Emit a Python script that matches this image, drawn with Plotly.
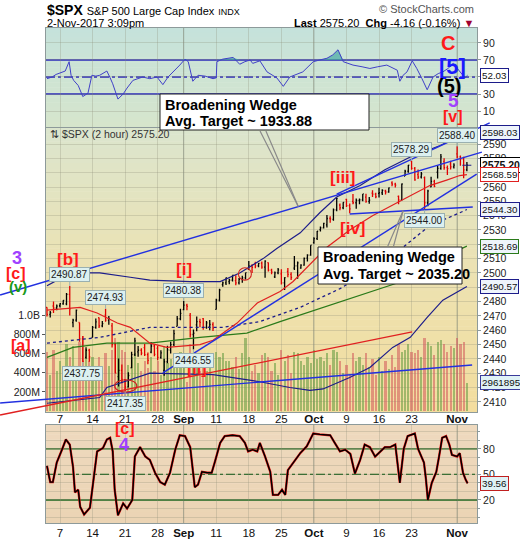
import numpy as np
import plotly.graph_objects as go

# ------------------------------------------------------------------ data
# x positions are trading-day indices (Aug 3 = 0 ... Nov 2 = 64), 2 bars per day
tick_idx = [2, 7, 12, 17, 21, 26, 31, 36, 41, 46, 51, 56, 63]
tick_text = ["7", "14", "21", "28", "<b>Sep</b>", "11", "18", "25",
             "<b>Oct</b>", "9", "16", "23", "<b>Nov</b>"]

bar_open = [2476.0, 2471.0, 2476.9, 2475.5, 2477.1, 2478.5, 2478.4, 2485.0, 2465.4, 2467.0,
            2465.4, 2454.0, 2441.0, 2446.0, 2455.0, 2462.0, 2468.7, 2463.0, 2470.5, 2467.0,
            2463.0, 2450.0, 2427.6, 2432.0, 2425.5, 2420.5, 2433.8, 2443.0, 2444.9, 2446.0,
            2447.9, 2443.0, 2444.7, 2449.0, 2447.4, 2441.0, 2431.9, 2438.0, 2446.1, 2450.0,
            2462.7, 2468.0, 2474.4, 2477.5, 2470.4, 2457.0, 2463.8, 2466.0, 2468.1, 2462.0,
            2462.3, 2464.0, 2474.5, 2481.0, 2491.9, 2493.0, 2493.9, 2495.0, 2494.6, 2493.0,
            2495.7, 2496.5, 2502.5, 2505.0, 2506.3, 2505.0, 2506.8, 2504.0, 2507.2, 2502.0,
            2497.3, 2500.0, 2499.4, 2493.0, 2501.0, 2499.0, 2503.3, 2505.0, 2503.4, 2505.5,
            2510.4, 2512.5, 2521.2, 2524.0, 2530.3, 2531.5, 2533.5, 2538.0, 2537.4, 2544.0,
            2547.4, 2545.5, 2551.4, 2547.0, 2550.0, 2549.0, 2550.6, 2551.0, 2552.9, 2550.0,
            2555.7, 2555.0, 2555.6, 2556.0, 2557.2, 2556.5, 2562.9, 2562.0, 2553.4, 2551.0,
            2567.6, 2571.0, 2578.1, 2573.0, 2568.7, 2567.0, 2566.5, 2549.0, 2560.1, 2564.0,
            2570.3, 2573.0, 2577.8, 2573.5, 2576.0, 2574.0, 2583.2, 2581.0, 2579.5, 2572.0]
bar_high = [2476.0, 2473.5, 2480.0, 2478.0, 2478.8, 2481.0, 2486.0, 2490.87, 2468.0, 2474.4,
            2465.4, 2456.0, 2448.1, 2447.0, 2463.0, 2468.2, 2468.9, 2466.5, 2474.93, 2470.0,
            2465.0, 2451.0, 2440.3, 2436.0, 2426.0, 2430.6, 2445.0, 2454.8, 2448.9, 2447.5,
            2450.4, 2444.5, 2451.7, 2450.0, 2449.1, 2446.0, 2440.0, 2449.2, 2452.0, 2460.3,
            2470.0, 2475.0, 2480.38, 2478.5, 2472.0, 2460.5, 2469.6, 2468.0, 2468.6, 2466.5,
            2467.1, 2465.5, 2482.0, 2489.0, 2494.0, 2496.8, 2496.0, 2498.4, 2498.4, 2496.5,
            2498.0, 2500.2, 2508.3, 2506.0, 2507.8, 2507.0, 2508.0, 2508.9, 2507.2, 2503.0,
            2501.0, 2503.5, 2502.5, 2497.0, 2503.5, 2500.5, 2511.8, 2508.0, 2506.0, 2510.8,
            2513.0, 2519.4, 2525.0, 2529.2, 2532.5, 2535.1, 2540.5, 2539.5, 2545.0, 2552.5,
            2548.5, 2549.4, 2551.8, 2548.5, 2555.2, 2552.0, 2552.0, 2555.2, 2555.3, 2553.0,
            2557.7, 2556.0, 2559.5, 2558.5, 2558.0, 2559.7, 2564.1, 2563.0, 2554.0, 2562.4,
            2572.0, 2575.4, 2578.29, 2574.0, 2572.2, 2570.5, 2567.4, 2558.0, 2567.1, 2565.0,
            2575.0, 2583.0, 2580.0, 2575.0, 2578.3, 2576.5, 2588.40, 2582.0, 2581.1, 2577.5]
bar_low = [2469.5, 2468.9, 2472.1, 2474.0, 2475.9, 2477.8, 2477.5, 2470.3, 2462.1, 2466.0,
           2452.0, 2437.75, 2440.0, 2437.9, 2455.0, 2461.0, 2461.6, 2462.0, 2466.0, 2463.9,
           2448.0, 2430.0, 2420.7, 2423.0, 2417.35, 2420.0, 2433.7, 2442.0, 2441.4, 2442.5,
           2442.0, 2436.2, 2444.0, 2441.9, 2439.0, 2440.0, 2428.2, 2437.0, 2443.8, 2449.0,
           2462.7, 2467.0, 2474.0, 2473.9, 2455.0, 2446.55, 2459.2, 2462.0, 2460.3, 2461.0,
           2460.0, 2459.4, 2474.5, 2480.0, 2490.4, 2491.5, 2492.1, 2494.0, 2491.4, 2492.0,
           2493.2, 2495.5, 2502.0, 2499.9, 2503.2, 2504.0, 2503.0, 2496.7, 2501.0, 2499.0,
           2496.5, 2499.0, 2492.0, 2488.0, 2497.0, 2495.1, 2502.0, 2495.9, 2502.9, 2505.0,
           2508.0, 2512.0, 2520.4, 2523.0, 2528.9, 2531.0, 2531.8, 2535.0, 2536.5, 2543.0,
           2543.8, 2544.5, 2546.0, 2541.6, 2548.0, 2544.9, 2548.0, 2550.0, 2549.0, 2548.3,
           2553.0, 2552.1, 2552.6, 2554.5, 2554.7, 2556.0, 2560.5, 2559.7, 2547.9, 2550.5,
           2567.6, 2570.0, 2572.0, 2564.3, 2565.6, 2566.0, 2544.00, 2546.5, 2559.8, 2559.9,
           2565.9, 2572.0, 2572.0, 2568.3, 2572.2, 2573.0, 2580.0, 2574.9, 2566.2, 2571.0]
bar_close = [2471.0, 2472.2, 2475.5, 2476.8, 2478.5, 2480.9, 2485.0, 2474.9, 2467.0, 2474.0,
             2454.0, 2438.2, 2446.0, 2441.3, 2462.0, 2465.8, 2463.0, 2464.6, 2467.0, 2468.1,
             2450.0, 2430.0, 2432.0, 2425.6, 2420.5, 2428.4, 2443.0, 2452.5, 2446.0, 2444.0,
             2443.0, 2439.0, 2449.0, 2443.1, 2441.0, 2444.2, 2438.0, 2446.3, 2450.0, 2457.6,
             2468.0, 2471.7, 2477.5, 2476.6, 2457.0, 2457.9, 2466.0, 2465.5, 2462.0, 2465.1,
             2464.0, 2461.4, 2481.0, 2488.1, 2493.0, 2496.5, 2495.0, 2498.4, 2493.0, 2495.6,
             2496.5, 2500.2, 2505.0, 2503.9, 2505.0, 2506.7, 2504.0, 2508.2, 2502.0, 2500.6,
             2500.0, 2502.2, 2493.0, 2496.7, 2499.0, 2496.8, 2505.0, 2507.0, 2505.5, 2510.1,
             2512.5, 2519.4, 2524.0, 2529.1, 2531.5, 2534.6, 2538.0, 2537.7, 2544.0, 2552.1,
             2545.5, 2549.3, 2547.0, 2544.7, 2549.0, 2550.6, 2551.0, 2555.2, 2550.0, 2550.9,
             2555.0, 2553.2, 2556.0, 2557.6, 2556.5, 2559.4, 2562.0, 2561.3, 2551.0, 2562.1,
             2571.0, 2575.2, 2573.0, 2565.0, 2567.0, 2569.1, 2549.0, 2557.2, 2564.0, 2560.4,
             2573.0, 2581.1, 2573.5, 2572.8, 2574.0, 2575.3, 2581.0, 2579.4, 2572.0, 2575.2]
volume_m = [620, 380, 640, 420, 520, 330, 700, 560, 680, 450,
            720, 780, 650, 520, 560, 400, 560, 380, 600, 470,
            640, 760, 720, 640, 620, 480, 560, 600, 500, 420,
            520, 450, 560, 420, 520, 380, 680, 500, 540, 500,
            580, 620, 520, 300, 700, 560, 560, 420, 540, 420,
            560, 380, 620, 560, 600, 520, 520, 460, 560, 440,
            600, 760, 560, 420, 480, 400, 580, 600, 560, 420,
            500, 380, 640, 520, 580, 400, 620, 600, 520, 480,
            560, 500, 640, 540, 560, 520, 600, 480, 640, 620,
            520, 400, 480, 380, 600, 520, 560, 480, 600, 460,
            540, 380, 560, 420, 520, 440, 580, 460, 700, 620,
            640, 700, 620, 600, 640, 560, 760, 720, 680, 580,
            720, 740, 700, 620, 680, 660, 760, 700, 720, 296.19]

# Bollinger bands & moving averages
bb_up_x = [0, 2, 4.6, 8.1, 12.8, 15.8, 22.0, 26.6, 29.6, 33.2, 35.3, 38.9, 41.9, 44.5, 48.1, 51.9, 55.8, 60.4, 64.5]
bb_up_v = [2491, 2496, 2500, 2500, 2497, 2495, 2494, 2494, 2500, 2510, 2517, 2528, 2542, 2553, 2561, 2572, 2581, 2589, 2598.03]
bb_mid_x = [0, 8.1, 15.8, 27.0, 32.7, 38.9, 45.0, 51.2, 54.7, 58.8, 63.4, 64.5]
bb_mid_v = [2451, 2455, 2462, 2462, 2466, 2476, 2489, 2506, 2518, 2533, 2542, 2544.30]
bb_low_x = [0, 8.1, 9.2, 15.8, 25.5, 32.7, 37.3, 40.4, 42.4, 46.5, 49.6, 53.1, 55.8, 58.4, 60.8, 64.5]
bb_low_v = [2409, 2413, 2420, 2430, 2429, 2424, 2420, 2418, 2419, 2427, 2434, 2448, 2455, 2469, 2481, 2490.57]
ma_green_x = [0, 4.0, 9.2, 15.8, 23.5, 30.7, 35.8, 45.0, 53.8, 60.3, 64.5]
ma_green_v = [2441, 2448, 2451, 2451, 2455, 2458, 2466, 2480, 2493, 2510, 2518.69]
ma_red_x = [0, 5.1, 7.7, 10.8, 12.8, 15.8, 18.4, 23.5, 25.5, 29.2, 32.3, 35.8, 37.8, 43.0, 46.5, 50.0, 54.2, 58.8, 61.5, 63.4, 64.5]
ma_red_v = [2474, 2476, 2472, 2465, 2462, 2451, 2448, 2450, 2453, 2465, 2479, 2487, 2494, 2518, 2530, 2540, 2550, 2561, 2565, 2568, 2568.59]

# RSI (top panel)
rsi_x = [0.0, 0.8, 1.4, 2.0, 2.8, 3.4, 3.7, 4.1, 4.8, 5.5,
         6.3, 6.9, 7.5, 8.1, 9.2, 9.7, 10.1, 10.9, 11.7, 12.3,
         13.2, 14.7, 15.8, 16.9, 17.8, 18.6, 19.4, 20.4, 21.2, 21.7,
         22.4, 23.2, 24.3, 25.5, 26.0, 26.1, 27.0, 27.8, 28.6, 29.6,
         30.4, 31.2, 31.6, 32.7, 33.8, 35.3, 36.3, 37.3, 38.4, 39.3,
         40.1, 40.9, 41.9, 43.0, 43.9, 44.7, 45.5, 47.0, 48.4, 49.6,
         50.8, 52.2, 53.8, 54.2, 54.7, 55.3, 56.1, 56.8, 57.6, 58.4,
         59.3, 60.1, 60.8, 61.6, 62.4, 63.4, 64.2, 64.6]
rsi_v = [48, 50, 53, 55, 57, 68, 52, 46, 40, 27,
         31, 52, 51, 52, 57, 49, 42, 24, 30, 37,
         46, 50, 48, 50, 41, 50, 56, 64, 71, 68,
         45, 52, 51, 48, 49, 68, 71, 72, 73, 65,
         68, 70, 66, 69, 56, 49, 39, 50, 53, 56,
         62, 68, 70, 72, 76, 82, 68, 64, 62, 60,
         62, 64, 58, 45, 52, 56, 69, 60, 48, 35,
         50, 54, 56, 60, 66, 56, 49, 52.03]

# Slow stochastic (bottom panel)
sto_x = [0.0, 0.5, 0.9, 1.5, 2.3, 2.9, 3.5, 4.0, 4.3, 4.8,
         5.1, 5.7, 6.6, 7.1, 7.7, 8.6, 9.2, 9.7, 10.1, 10.4,
         10.9, 11.7, 12.3, 13.1, 13.5, 14.3, 15.1, 15.8, 16.6, 17.4,
         18.1, 18.9, 19.7, 20.4, 21.2, 22.0, 22.7, 23.2, 23.8, 24.6,
         25.3, 25.8, 26.6, 27.3, 28.5, 29.6, 30.4, 30.9, 31.6, 32.3,
         32.7, 33.5, 34.3, 34.7, 35.5, 36.1, 36.6, 37.0, 37.8, 38.9,
         39.9, 40.4, 40.9, 41.9, 43.5, 44.2, 45.0, 45.8, 46.6, 47.3,
         48.1, 48.8, 49.6, 50.4, 51.2, 51.9, 52.7, 53.5, 54.2, 54.8,
         55.4, 56.5, 57.0, 57.5, 57.9, 58.2, 58.5, 59.1, 59.8, 60.2,
         60.7, 61.3, 61.8, 62.2, 63.0, 63.4, 63.9, 64.3, 64.6]
sto_v = [60, 41, 41, 64, 79, 91, 85, 59, 29, 32,
         12, 3, 11, 40, 77, 81, 91, 93, 77, 32,
         2, 16, 10, 20, 71, 82, 71, 67, 52, 41,
         38, 52, 79, 96, 95, 82, 35, 38, 53, 52,
         52, 65, 87, 95, 96, 95, 87, 77, 79, 77,
         87, 71, 53, 26, 26, 32, 26, 55, 64, 75,
         83, 91, 98, 97, 96, 87, 77, 79, 74, 51,
         67, 85, 82, 71, 77, 82, 82, 85, 40, 80,
         95, 98, 80, 70, 64, 45, 20, 40, 53, 70,
         93, 95, 85, 73, 71, 75, 52, 44, 39.56]

# Trendlines (trading-day index, price)
trend_blue = [[(-7.2, 2484.6), (66.8, 2584.4)],
              [(44.5, 2555.0), (68.0, 2604.7)],
              [(17.8, 2430.2), (66.0, 2569.0)],
              [(46.5, 2541.1), (65.4, 2546.0)],
              [(-7.2, 2409.2), (65.3, 2435.7)]]
trend_red = [[(-7.2, 2400.8), (56.1, 2458.8)]]

# price labels (text, bar index, price, pixel offset)
point_labels = [("2490.87", 3.5, 2490.87, -12), ("2474.93", 9.0, 2474.93, -11),
                ("2480.38", 21.0, 2480.38, -11), ("2437.75", 5.5, 2437.75, 11),
                ("2417.35", 12.0, 2417.35, 12), ("2446.55", 22.5, 2446.55, 11),
                ("2578.29", 56.0, 2578.29, -11), ("2588.40", 63.0, 2588.40, -11),
                ("2544.00", 58.0, 2544.00, 11)]

# ------------------------------------------------------------------ geometry
W, H = 520, 540
ML, MR, MT, MB = 46, 43, 28, 17
PW, PH = W - ML - MR, H - MT - MB


def pxx(px):
    return (px - ML) / PW


def pxy(py):
    return (H - MB - py) / PH


RSI_DOM = [pxy(127), 1.0]
MAIN_DOM = [pxy(412), pxy(128)]
STO_DOM = [0.0, pxy(425)]
X_RANGE = [-0.15, 66.05]
P_RANGE = [2402.9, 2601.2]
V_RANGE = [-10e6, 2.95e9]
RSI_RANGE = [-8.8, 107.6]
STO_RANGE = [-7, 108]


def main_to_paper(ix, price):
    x = (ix - X_RANGE[0]) / (X_RANGE[1] - X_RANGE[0])
    y = MAIN_DOM[0] + (price - P_RANGE[0]) / (P_RANGE[1] - P_RANGE[0]) * (MAIN_DOM[1] - MAIN_DOM[0])
    return x, y


FONT = "Liberation Sans, Arial, sans-serif"
NAVY = "#1c1c8a"
GRID = "rgba(140,140,120,0.28)"
BORDER = "#8d9a9a"

bar_x = [d + s for d in range(65) for s in (0.0, 0.5)]

fig = go.Figure()

# volume (base axis of main panel)
vol_colors = ["rgba(112,160,72,0.62)" if c >= o else "rgba(210,85,90,0.55)"
              for o, c in zip(bar_open, bar_close)]
fig.add_trace(go.Bar(x=bar_x, y=[v * 1e6 for v in volume_m], width=0.34,
                     marker=dict(color=vol_colors, line_width=0),
                     xaxis="x", yaxis="y2", hoverinfo="skip"))

# overlays on price axis
fig.add_trace(go.Scatter(x=ma_green_x, y=ma_green_v, mode="lines",
                         line=dict(color="#2a7a1a", width=1.2), xaxis="x", yaxis="y3", hoverinfo="skip"))
fig.add_trace(go.Scatter(x=bb_mid_x, y=bb_mid_v, mode="lines",
                         line=dict(color=NAVY, width=1.3, dash="dot"), xaxis="x", yaxis="y3", hoverinfo="skip"))
fig.add_trace(go.Scatter(x=bb_up_x, y=bb_up_v, mode="lines",
                         line=dict(color=NAVY, width=1.2), xaxis="x", yaxis="y3", hoverinfo="skip"))
fig.add_trace(go.Scatter(x=bb_low_x, y=bb_low_v, mode="lines",
                         line=dict(color=NAVY, width=1.2), xaxis="x", yaxis="y3", hoverinfo="skip"))
fig.add_trace(go.Scatter(x=ma_red_x, y=ma_red_v, mode="lines",
                         line=dict(color="#e02020", width=1.2), xaxis="x", yaxis="y3", hoverinfo="skip"))

fig.add_trace(go.Ohlc(x=bar_x, open=bar_open, high=bar_high, low=bar_low, close=bar_close,
                      increasing=dict(line=dict(color="#000000", width=1.3)),
                      decreasing=dict(line=dict(color="#e00000", width=1.3)),
                      tickwidth=0.3, xaxis="x", yaxis="y3", hoverinfo="skip"))

# RSI
fig.add_trace(go.Scatter(x=rsi_x, y=[70] * len(rsi_x), mode="lines", line=dict(width=0),
                         xaxis="x2", yaxis="y", hoverinfo="skip"))
fig.add_trace(go.Scatter(x=rsi_x, y=list(np.maximum(rsi_v, 70)), mode="lines", line=dict(width=0),
                         fill="tonexty", fillcolor="rgba(60,165,160,0.65)",
                         xaxis="x2", yaxis="y", hoverinfo="skip"))
fig.add_trace(go.Scatter(x=rsi_x, y=rsi_v, mode="lines", line=dict(color="#4040c8", width=1),
                         xaxis="x2", yaxis="y", hoverinfo="skip"))

# Stochastic
fig.add_trace(go.Scatter(x=sto_x, y=sto_v, mode="lines", line=dict(color="#e01010", width=2.3),
                         xaxis="x3", yaxis="y4", hoverinfo="skip"))
fig.add_trace(go.Scatter(x=sto_x, y=sto_v, mode="lines", line=dict(color="#000000", width=1.4),
                         xaxis="x3", yaxis="y4", hoverinfo="skip"))

# ------------------------------------------------------------------ shapes
shapes = []


def bands(y_top, y_bot, c_top, c_bot, n=20):
    out = []
    for k in range(n):
        t = (k + 0.5) / n
        col = tuple(int(round(c_top[j] + (c_bot[j] - c_top[j]) * t)) for j in range(3))
        ya = y_top + (y_bot - y_top) * k / n
        yb = y_top + (y_bot - y_top) * (k + 1) / n
        out.append(dict(type="rect", xref="paper", yref="paper", x0=0, x1=1,
                        y0=pxy(yb), y1=pxy(ya) + 0.001, fillcolor="rgb(%d,%d,%d)" % col,
                        line_width=0, layer="below"))
    return out


shapes += bands(28, 127.5, (197, 226, 219), (214, 229, 204))
shapes += bands(127.5, 270, (219, 229, 206), (236, 226, 178))
shapes += bands(270, 412, (236, 226, 178), (243, 221, 158))
shapes += bands(425, 523, (238, 217, 190), (235, 212, 180))

# month separators
for mi in (21, 41, 63):
    for yr, xr in (("y domain", "x2"), ("y2 domain", "x"), ("y4 domain", "x3")):
        shapes.append(dict(type="line", xref=xr, yref=yr, x0=mi, x1=mi, y0=0, y1=1,
                           line=dict(color="rgba(120,132,120,0.55)", width=1), layer="below"))

# RSI reference lines
for lv, dash in ((70, "solid"), (30, "solid"), (50, "dashdot")):
    shapes.append(dict(type="line", xref="paper", yref="y", x0=0, x1=1, y0=lv, y1=lv,
                       line=dict(color="#2a2ab8", width=1.3, dash=dash), layer="below"))
# Stochastic reference lines
for lv, dash in ((80, "solid"), (20, "solid"), (50, "dashdot")):
    shapes.append(dict(type="line", xref="paper", yref="y4", x0=0, x1=1, y0=lv, y1=lv,
                       line=dict(color="#1e641e", width=1.3, dash=dash), layer="below"))

# trendlines (extend into margins, so drawn in paper space)
for seg in trend_blue:
    (xa, ya), (xb, yb) = main_to_paper(*seg[0]), main_to_paper(*seg[1])
    shapes.append(dict(type="line", xref="paper", yref="paper", x0=xa, y0=ya, x1=xb, y1=yb,
                       line=dict(color="#2230e0", width=1.4), layer="above"))
for seg in trend_red:
    (xa, ya), (xb, yb) = main_to_paper(*seg[0]), main_to_paper(*seg[1])
    shapes.append(dict(type="line", xref="paper", yref="paper", x0=xa, y0=ya, x1=xb, y1=yb,
                       line=dict(color="#e02020", width=1.3), layer="above"))

# circles
shapes.append(dict(type="circle", xref="x", yref="y3", x0=10.4, x1=13.8, y0=2416.8, y1=2425.4,
                   line=dict(color="#d02020", width=1.1)))
shapes.append(dict(type="circle", xref="x", yref="y3", x0=29.4, x1=31.4, y0=2495.0, y1=2503.6,
                   line=dict(color="#d02020", width=1.1)))

# last-price dashed line
shapes.append(dict(type="line", xref="x", yref="y3", x0=63.8, x1=X_RANGE[1], y0=2575.2, y1=2575.2,
                   line=dict(color=NAVY, width=1, dash="dash")))

# callout boxes
shapes.append(dict(type="rect", xref="paper", yref="paper", x0=pxx(160), x1=pxx(369),
                   y0=pxy(130), y1=pxy(94), fillcolor="white", line=dict(color="#222", width=1),
                   layer="above"))
shapes.append(dict(type="rect", xref="paper", yref="paper", x0=pxx(318), x1=pxx(462),
                   y0=pxy(284), y1=pxy(247), fillcolor="white", line=dict(color="#222", width=1),
                   layer="above"))

# ------------------------------------------------------------------ annotations
ann = []


def txt(text, px, py, size, color="#000", anchor="left", bold=False, family=FONT):
    t = "<b>%s</b>" % text if bold else text
    ann.append(dict(xref="paper", yref="paper", x=pxx(px), y=pxy(py), xanchor=anchor,
                    yanchor="middle", text=t, showarrow=False,
                    font=dict(size=size, color=color, family=family)))


# header
txt("<b>$SPX</b> <span style='font-size:11px'>S&amp;P 500 Large Cap Index</span> "
    "<span style='font-size:9px'>INDX</span>", 45, 10, 14)
txt("2-Nov-2017 3:09pm", 45, 23, 11)
txt("© StockCharts.com", 476, 9, 11, color="#555", anchor="right")
txt("<b>Last</b> 2575.20  <b>Chg</b> -4.16 (-0.16%) <span style='color:#a00030'>▼</span>",
    476, 23, 11, anchor="right")
txt("⇅ $SPX (2 hour) 2575.20", 48, 134, 10.5, color="#333")

# callout texts
txt("Broadening Wedge", 163, 105, 14.5, bold=True)
txt("Avg. Target ~ 1933.88", 163, 121, 14.5, bold=True)
txt("Broadening Wedge", 321, 257, 14.5, bold=True)
txt("Avg. Target ~ 2035.20", 321, 274, 14.5, bold=True)

# callout pointers (wedge)
for (tx, ty, axs, ay) in ((38.6, 2546.4, (-39, -33), -77), (54.7, 2543.4, (-16, -10), 37)):
    for ax in axs:
        ann.append(dict(xref="x", yref="y3", x=tx, y=ty, ax=ax, ay=ay, text="",
                        showarrow=True, arrowhead=0, arrowwidth=1.2, arrowcolor="#8a8a8a",
                        standoff=0, startstandoff=0))

# wave labels
RED, PURPLE, BLUE, GREEN = "#ff1a1a", "#a040ff", "#1a1aff", "#1a9a1a"
for (t, px, py, sz, col) in [("3", 17, 258, 18, PURPLE), ("[c]", 16, 273, 16, RED),
                             ("(v)", 18, 286, 15, GREEN), ("[b]", 68, 259, 17, RED),
                             ("[i]", 184, 269, 17, RED), ("[ii]", 197, 368, 16, RED),
                             ("[iii]", 343, 177, 17, RED), ("[iv]", 353, 229, 17, RED),
                             ("[a]", 21, 345, 16, RED), ("[c]", 125, 428, 16, RED),
                             ("4", 124, 445, 18, PURPLE), ("C", 448, 43, 20, RED),
                             ("[5]", 452, 66, 22, BLUE), ("(5)", 449, 86, 20, "#000"),
                             ("5", 453, 100, 19, PURPLE), ("[v]", 453, 116, 16, RED)]:
    txt(t, px, py, sz, color=col, anchor="center", bold=True)

# price point labels
for (t, ix, pr, off) in point_labels:
    ann.append(dict(xref="x", yref="y3", x=ix, y=pr, ax=0, ay=off, text=t, showarrow=True,
                    arrowhead=0, arrowwidth=1, arrowcolor="#9ab0b0", standoff=0,
                    bgcolor="#dcf0f0", bordercolor="#9ab0b0", borderwidth=1, borderpad=1,
                    font=dict(size=10, color="#202020", family=FONT)))

# right side value tags
for (t, yv, yr, bc, bg, bold) in [("52.03", 52.03, "y", NAVY, "white", False),
                                  ("2598.03", 2598.03, "y3", NAVY, "#eef4fb", False),
                                  ("2575.20", 2575.20, "y3", "#000", "white", True),
                                  ("2568.59", 2568.59, "y3", "#e02020", "white", False),
                                  ("2544.30", 2544.30, "y3", NAVY, "#eef4fb", False),
                                  ("2518.69", 2518.69, "y3", "#2a7a1a", "#eef4fb", False),
                                  ("2490.57", 2490.57, "y3", NAVY, "#eef4fb", False),
                                  ("2961895", 296.19e6, "y2", "#3a3a9a", "#dff2f6", False),
                                  ("39.56", 39.56, "y4", "#c02020", "#dff2f6", False)]:
    ann.append(dict(xref="paper", yref=yr, x=pxx(480), y=yv, xanchor="left", yanchor="middle",
                    text="<b>%s</b>" % t if bold else t, showarrow=False, bgcolor=bg,
                    bordercolor=bc, borderwidth=1, borderpad=1,
                    font=dict(size=10.5 if bold else 9.8, color="#111", family=FONT)))

# ------------------------------------------------------------------ layout
axis_common = dict(showline=True, linecolor=BORDER, linewidth=1, mirror=True, zeroline=False,
                   fixedrange=True, automargin=False)
x_common = dict(axis_common, range=X_RANGE, tickvals=tick_idx, showgrid=True, gridcolor=GRID,
                ticks="")

fig.update_layout(
    width=W, height=H, autosize=False,
    margin=dict(l=ML, r=MR, t=MT, b=MB, pad=0, autoexpand=False),
    paper_bgcolor="white", plot_bgcolor="rgba(0,0,0,0)", showlegend=False,
    font=dict(family=FONT, size=10.5, color="#222"), bargap=0,
    xaxis=dict(x_common, domain=[0, 1], anchor="y2", ticktext=tick_text, ticklabelstandoff=-4,
               tickfont=dict(size=11.5, color="#111"), rangeslider=dict(visible=False)),
    xaxis2=dict(x_common, domain=[0, 1], anchor="y", matches="x", showticklabels=False),
    xaxis3=dict(x_common, domain=[0, 1], anchor="y4", matches="x", ticktext=tick_text,
                ticklabelstandoff=-1, tickfont=dict(size=11.5, color="#111")),
    yaxis=dict(axis_common, domain=RSI_DOM, anchor="x2", range=RSI_RANGE, side="right",
               tickvals=[10, 30, 50, 70, 90], showgrid=True, gridcolor=GRID,
               ticks="outside", ticklen=3, tickcolor=BORDER),
    yaxis2=dict(axis_common, domain=MAIN_DOM, anchor="x", range=V_RANGE, side="left",
                tickvals=[2e8, 4e8, 6e8, 8e8, 1e9], ticktext=["200M", "400M", "600M", "800M", "1.0B"],
                showgrid=False, ticks="outside", ticklen=3, tickcolor="#555"),
    yaxis3=dict(axis_common, overlaying="y2", anchor="x", range=P_RANGE, side="right",
                tickvals=list(range(2410, 2600, 10)), showgrid=True, gridcolor=GRID,
                ticks="outside", ticklen=3, tickcolor=BORDER),
    yaxis4=dict(axis_common, domain=STO_DOM, anchor="x3", range=STO_RANGE, side="right",
                tickvals=[20, 50, 80], showgrid=False, ticks="outside", ticklen=3, tickcolor=BORDER,
                minor=dict(dtick=10, tick0=0, showgrid=True, gridcolor=GRID, ticks="outside",
                           ticklen=2, tickcolor=BORDER)),
    shapes=shapes, annotations=ann,
)

fig.write_html(
    "out.html",
    config={"responsive": False, "displayModeBar": False},
    post_script=("var de=document.documentElement, bd=document.body;"
                 "de.style.margin='0';de.style.padding='0';de.style.overflow='hidden';"
                 "bd.style.margin='0';bd.style.padding='0';bd.style.overflow='hidden';"
                 "var gd=document.getElementById('{plot_id}');"
                 "gd.style.position='fixed';gd.style.left='0px';gd.style.top='0px';"),
)
